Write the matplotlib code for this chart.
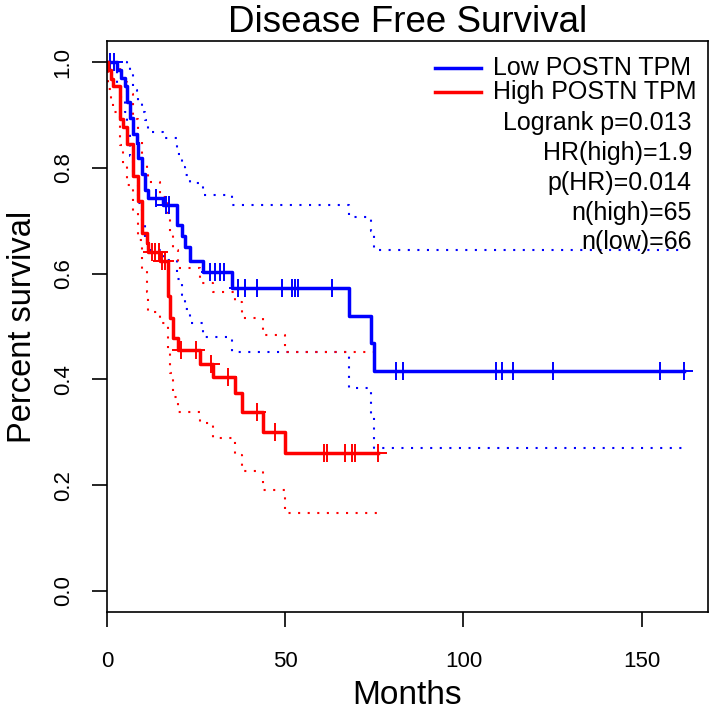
import numpy as np
import matplotlib
matplotlib.use("Agg")
import matplotlib.pyplot as plt

# ---------------- data ----------------
# Low POSTN TPM group: Kaplan-Meier step times / levels and 95% CI
low_months = [0, 2.7, 3.8, 5.0, 5.6, 6.4, 7.4, 8.3, 8.8, 9.7, 10.7, 11.6, 15.8,
              19.5, 20.9, 21.9, 23.3, 27.0, 35.0, 67.9, 74.0, 74.9, 162.0]
low_surv = [1.0, 0.985, 0.970, 0.955, 0.924, 0.894, 0.864, 0.848, 0.818, 0.788,
            0.758, 0.743, 0.729, 0.692, 0.671, 0.651, 0.623, 0.604, 0.572, 0.520,
            0.468, 0.416, 0.416]
low_upper = [1.0, 1.0, 1.0, 1.0, 0.994, 0.985, 0.947, 0.938, 0.925, 0.906, 0.890,
             0.868, 0.856, 0.827, 0.802, 0.786, 0.771, 0.749, 0.730, 0.708, 0.680,
             0.645, 0.645]
low_lower = [1.0, 0.956, 0.930, 0.906, 0.865, 0.822, 0.788, 0.768, 0.733, 0.699,
             0.666, 0.645, 0.625, 0.590, 0.560, 0.534, 0.507, 0.481, 0.451, 0.384,
             0.330, 0.270, 0.270]
low_censored = [0.8, 1.9, 13.7, 16.5, 17.4, 29.0, 30.4, 31.7, 32.7, 36.8, 38.7,
                42.0, 49.0, 51.8, 52.7, 53.6, 63.0, 81.0, 82.9, 109.1, 110.9,
                113.9, 125.1, 155.0, 162.0]

# High POSTN TPM group
high_months = [0, 0.4, 1.2, 1.8, 3.6, 4.6, 5.5, 7.4, 8.8, 9.7, 11.1, 11.6, 15.0,
               17.0, 17.7, 18.6, 20.0, 26.1, 29.8, 35.9, 37.8, 43.8, 49.9, 76.1]
high_surv = [1.0, 0.985, 0.969, 0.954, 0.892, 0.877, 0.846, 0.785, 0.738, 0.677,
             0.657, 0.641, 0.623, 0.558, 0.516, 0.478, 0.456, 0.430, 0.405, 0.374,
             0.339, 0.301, 0.260, 0.260]
high_upper = [1.0, 1.0, 1.0, 1.0, 0.972, 0.962, 0.940, 0.892, 0.853, 0.809, 0.793,
              0.774, 0.745, 0.714, 0.676, 0.645, 0.610, 0.582, 0.566, 0.547, 0.516,
              0.484, 0.452, 0.452]
high_lower = [1.0, 0.950, 0.931, 0.906, 0.843, 0.805, 0.767, 0.714, 0.664, 0.607,
              0.566, 0.528, 0.506, 0.456, 0.412, 0.367, 0.339, 0.317, 0.289, 0.257,
              0.226, 0.190, 0.147, 0.147]
high_censored = [12.6, 13.6, 14.5, 15.4, 16.2, 20.7, 25.1, 29.1, 34.0, 42.0, 47.1,
                 60.9, 61.8, 66.9, 68.8, 69.7, 76.1]

x_ticks = [0, 50, 100, 150]
y_ticks = [0.0, 0.2, 0.4, 0.6, 0.8, 1.0]
y_tick_labels = ["0.0", "0.2", "0.4", "0.6", "0.8", "1.0"]
legend_labels = ["Low POSTN TPM", "High POSTN TPM"]
stats_lines = ["Logrank p=0.013", "HR(high)=1.9", "p(HR)=0.014",
               "n(high)=65", "n(low)=66"]

# ---------------- plotting ----------------
plt.rcParams['font.family'] = ['Liberation Sans', 'DejaVu Sans']

W, H = 710, 714
fig = plt.figure(figsize=(W / 100, H / 100), dpi=100)
ax = fig.add_axes([107 / W, 1 - 612 / H, 601 / W, 571 / H])
ax.set_xlim(0, 168.6)
ax.set_ylim(-0.04, 1.04)


def step_value(times, levels, x):
    idx = np.searchsorted(np.asarray(times), np.asarray(x), side='right') - 1
    return np.asarray(levels)[idx]


groups = [
    (low_months, low_surv, low_upper, low_lower, low_censored, '#0000ff'),
    (high_months, high_surv, high_upper, high_lower, high_censored, '#ff0000'),
]
for t, s, hi, lo, cens, col in groups:
    ax.step(t, hi, where='post', color=col, lw=1.5, ls=(0, (1, 3.6)))
    ax.step(t, lo, where='post', color=col, lw=1.5, ls=(0, (1, 3.6)))
for t, s, hi, lo, cens, col in groups:
    ax.step(t, s, where='post', color=col, lw=2.5)
    ax.plot(cens, step_value(t, s, cens), ls='none', marker='+', ms=13,
            mew=1.4, color=col)

# axes styling
for sp in ax.spines.values():
    sp.set_linewidth(1.2)
ax.set_xticks(x_ticks)
ax.set_xticklabels([str(v) for v in x_ticks])
ax.set_yticks(y_ticks)
ax.set_yticklabels(y_tick_labels, rotation=90, va='center', ha='right')
ax.tick_params(axis='both', direction='out', length=11, width=1.2,
               labelsize=16)
ax.tick_params(axis='x', pad=17)
ax.tick_params(axis='y', pad=13)

# legend (drawn manually, R style: lines + left-aligned labels)
line_y = [0.952, 0.911]
for yy, lab, col in zip(line_y, legend_labels, ['#0000ff', '#ff0000']):
    ax.plot([0.546, 0.623], [yy, yy], transform=ax.transAxes, color=col, lw=2.5)
    ax.text(0.642, yy, lab, transform=ax.transAxes, ha='left', va='center',
            fontsize=18)
stat_base = [130, 160, 190, 220, 249]
for yb, txt in zip(stat_base, stats_lines):
    ax.text(0.973, (612 - yb) / 571, txt, transform=ax.transAxes, ha='right',
            va='baseline', fontsize=18)

fig.text(407.5 / W, 1 - 32 / H, 'Disease Free Survival', ha='center',
         va='baseline', fontsize=26.5)
fig.text(407.5 / W, 1 - 704 / H, 'Months', ha='center', va='baseline',
         fontsize=24)
fig.text(38 / W, 1 - 326.5 / H, 'Percent survival', rotation=90, ha='right',
         va='center', fontsize=23.5)

fig.savefig('out.png', dpi=100)
